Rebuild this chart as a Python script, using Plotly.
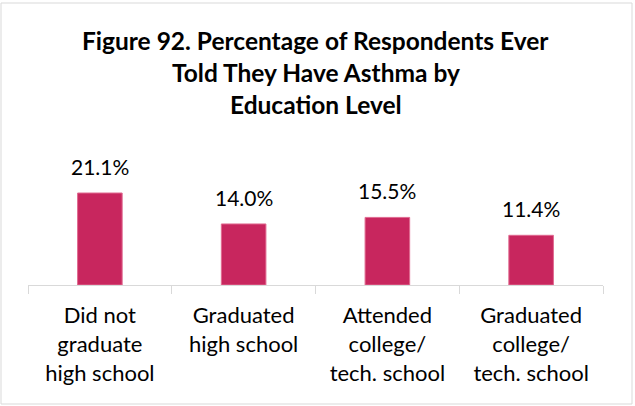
import plotly.graph_objects as go

categories = ["Did not<br>graduate<br>high school", "Graduated<br>high school",
              "Attended<br>college/<br>tech. school", "Graduated<br>college/<br>tech. school"]
values = [21.1, 14.0, 15.5, 11.4]
labels = ["21.1%", "14.0%", "15.5%", "11.4%"]
title_lines = ["Figure 92. Percentage of Respondents Ever",
               "Told They Have Asthma by",
               "Education Level"]

W, H = 635, 406
ml, mr, mt, mb = 28, 32, 176, 121
PH = H - mt - mb
PW = W - ml - mr
AXIS_Y = H - mb

fig = go.Figure(go.Bar(
    x=categories, y=values,
    marker=dict(color="#C8265E", line=dict(color="#E06A90", width=1)),
    hoverinfo="skip",
))

annotations = []
for c, v, t in zip(categories, values, labels):
    annotations.append(dict(x=c, y=v, xref="x", yref="y", text=t, showarrow=False,
                            yanchor="bottom", yshift=12,
                            font=dict(size=21, family="Lato", color="#000000")))
title_centers = [40, 72, 104]
for line, yc in zip(title_lines, title_centers):
    annotations.append(dict(x=0.5, xref="paper", y=(AXIS_Y - yc) / PH, yref="paper",
                            xanchor="center", yanchor="middle", showarrow=False,
                            text="<b>" + line + "</b>",
                            font=dict(size=24.5, family="Lato", color="#000000")))

fig.update_layout(
    width=W, height=H,
    margin=dict(l=ml, r=mr, t=mt, b=mb),
    paper_bgcolor="white", plot_bgcolor="white",
    bargap=0.69,
    showlegend=False,
    font=dict(family="Lato", color="#000000"),
    annotations=annotations,
    shapes=[dict(type="rect", xref="paper", yref="paper",
                 x0=(1 - ml) / PW, x1=(632 - ml) / PW,
                 y0=(AXIS_Y - 404) / PH, y1=(AXIS_Y - 3) / PH,
                 line=dict(color="#D9D9D9", width=1), layer="below")],
)
fig.update_xaxes(showline=True, linecolor="#D9D9D9", linewidth=1,
                 ticks="outside", tickson="boundaries", ticklen=8, tickcolor="#D9D9D9",
                 tickfont=dict(size=22, family="Lato", color="#000000"),
                 ticklabelstandoff=11,
                 showgrid=False, zeroline=False, automargin=False)
fig.update_yaxes(visible=False, range=[0, 25])

fig.write_html("out.html", config={"displayModeBar": False},
               post_script="document.body.style.margin='0';document.body.style.overflow='hidden';")
